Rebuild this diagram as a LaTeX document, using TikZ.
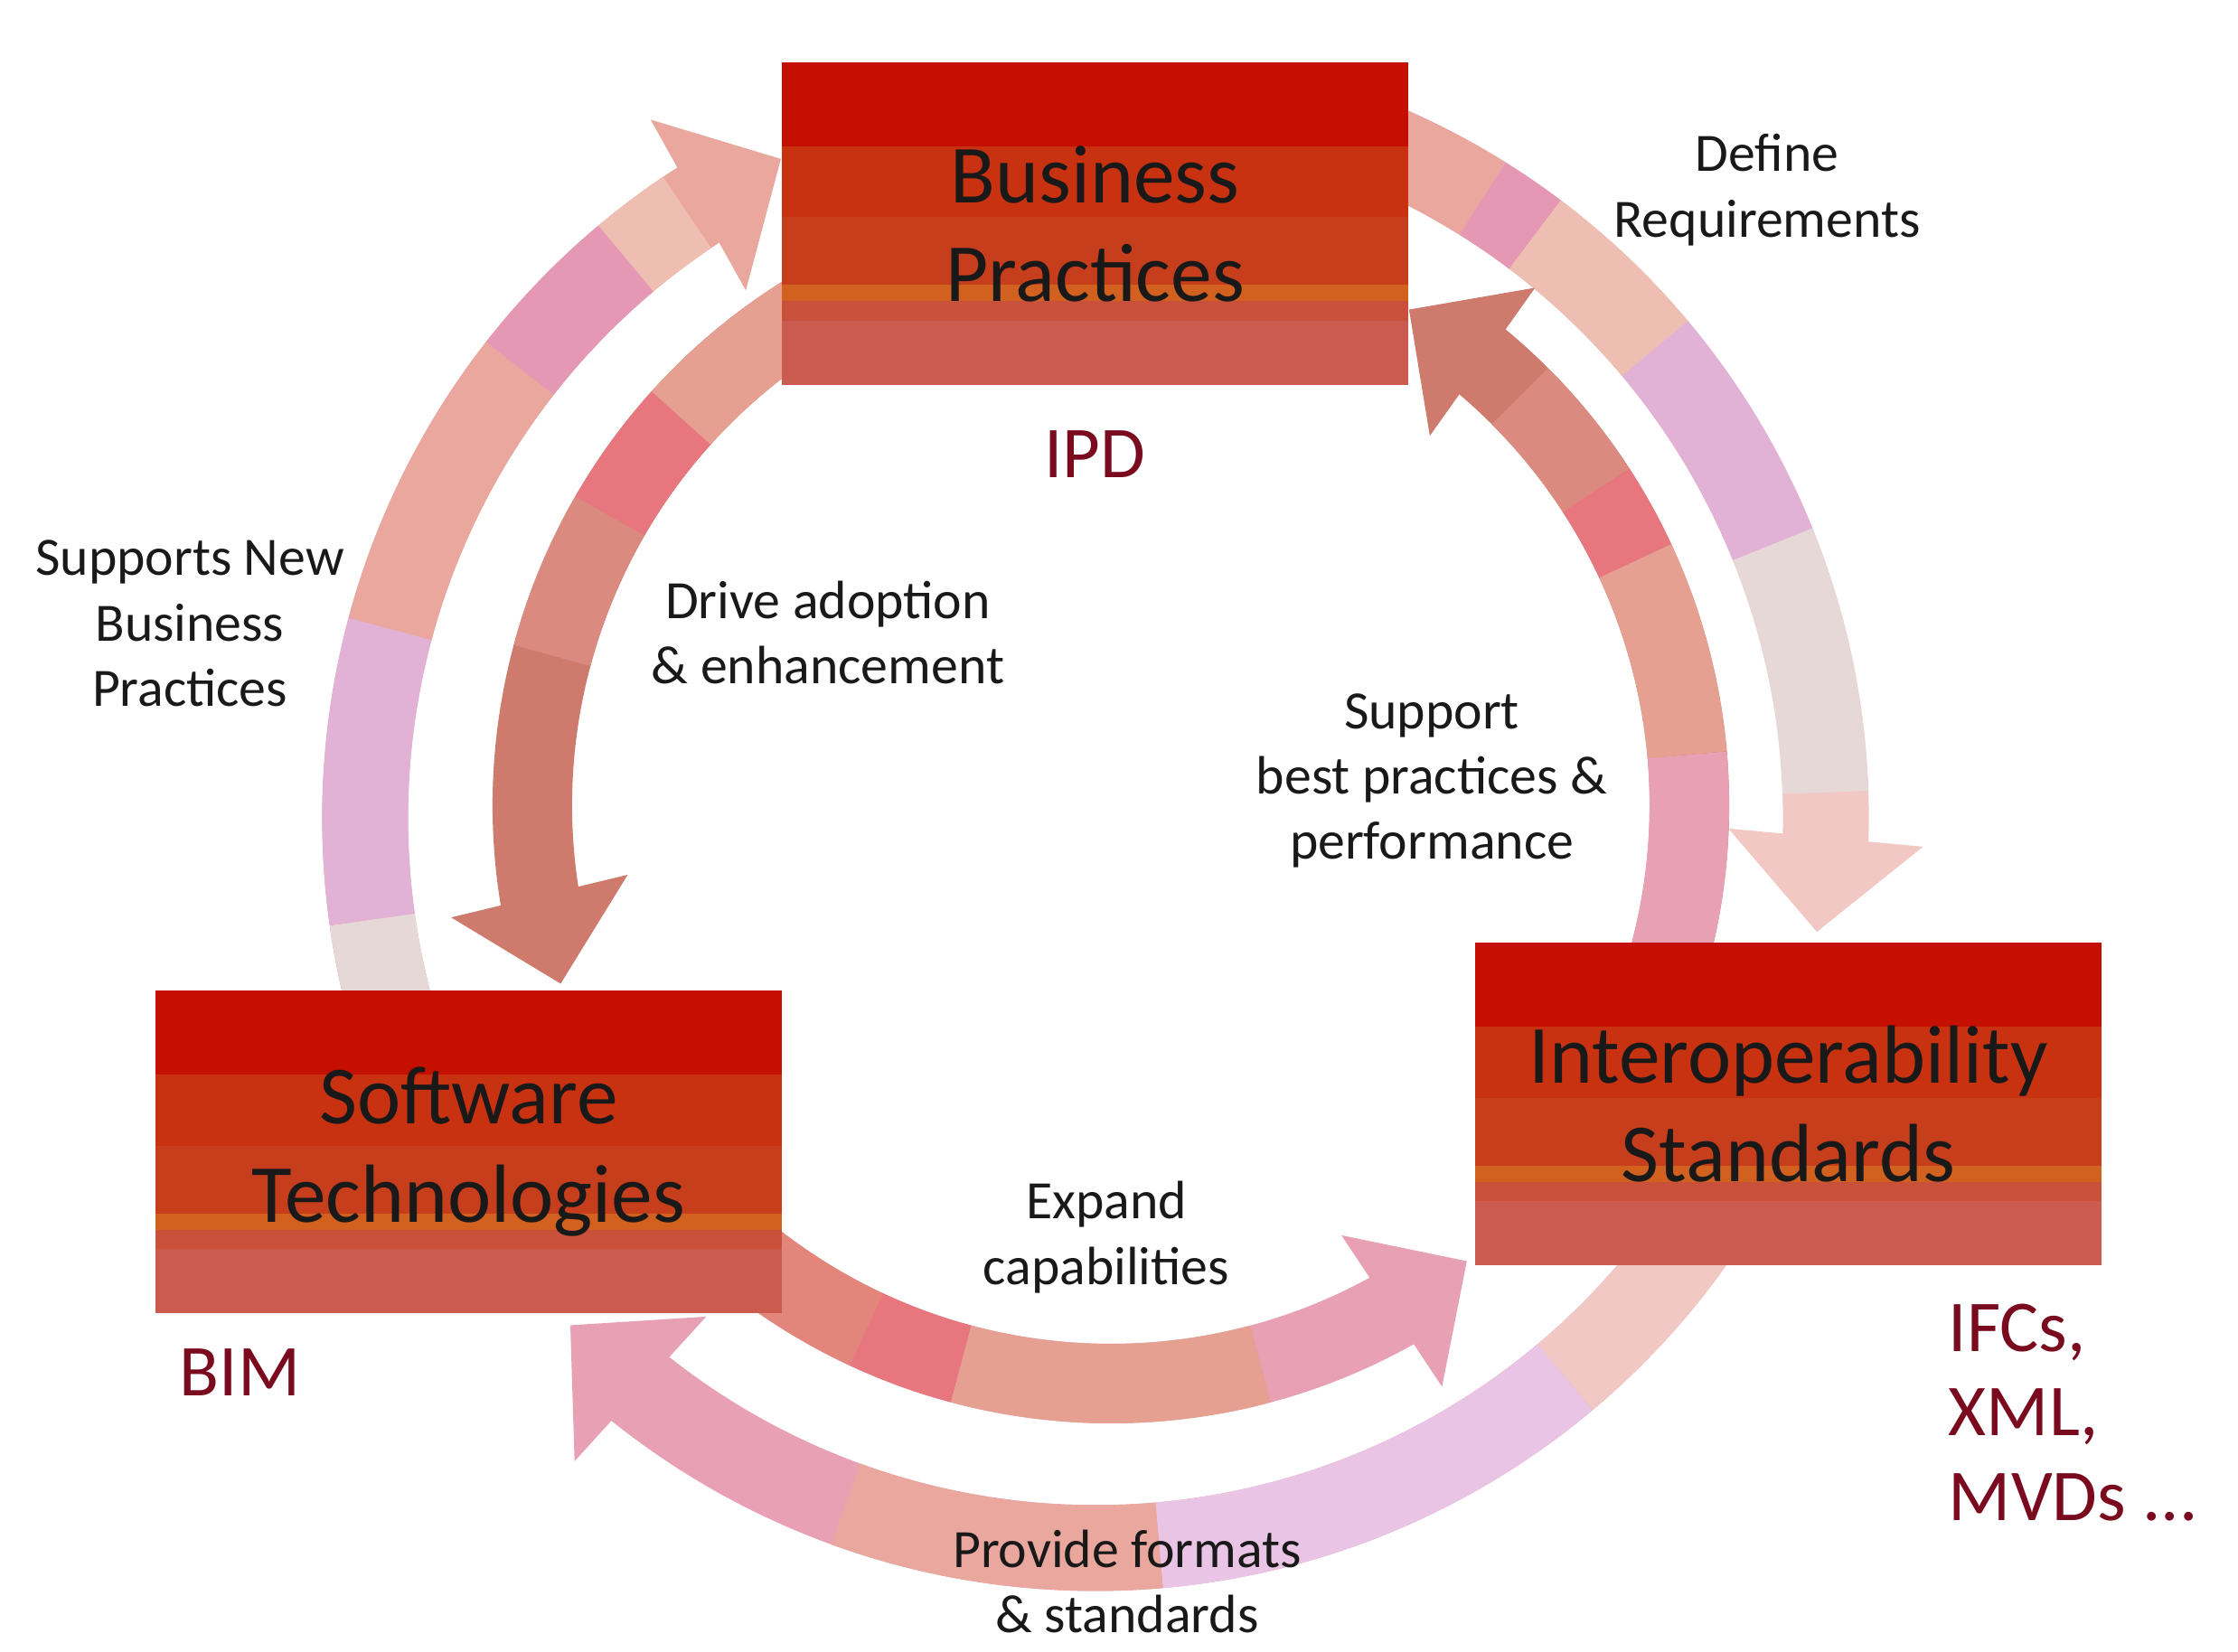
\documentclass[tikz,border=0pt]{standalone}
\usepackage{fontspec}
\setmainfont{Carlito}
\usetikzlibrary{arrows.meta,bending,calc}
\definecolor{bandA}{HTML}{C50F00}
\definecolor{bandB}{HTML}{C93210}
\definecolor{bandC}{HTML}{C63E1C}
\definecolor{bandD}{HTML}{D2601E}
\definecolor{bandE}{HTML}{C9503A}
\definecolor{bandF}{HTML}{CB5B4E}
\definecolor{tagred}{HTML}{7A0A1E}
\definecolor{mist}{HTML}{E6D8D6}
\definecolor{lilac}{HTML}{E2B2D6}
\definecolor{palelilac}{HTML}{E9C4E4}
\definecolor{salmon}{HTML}{E9A79E}
\definecolor{salmondeep}{HTML}{E5A092}
\definecolor{pinkish}{HTML}{E598B4}
\definecolor{rosy}{HTML}{E8A0B4}
\definecolor{peach}{HTML}{EEBEB2}
\definecolor{blush}{HTML}{F2C8C4}
\definecolor{brick}{HTML}{CE7B6E}
\definecolor{clay}{HTML}{DA8A7E}
\definecolor{coral}{HTML}{E8767E}
\definecolor{coralred}{HTML}{E2857A}

\begin{document}
\begin{tikzpicture}[node distance=2.5cm,
  stagebox/.style={minimum width=6.93cm, minimum height=3.57cm, inner sep=0pt, align=center,
    fill=bandF, text=black!90, font=\fontsize{26}{31}\selectfont,
    path picture={
      \foreach \f/\c in {0/bandA,0.26/bandB,0.48/bandC,0.69/bandD,0.74/bandE,0.80/bandF}
        \fill[\c] ($(path picture bounding box.north west)!\f!(path picture bounding box.south west)$) rectangle (path picture bounding box.south east);
    }},
  note/.style={align=center, text=black!90, font=\fontsize{17}{20.6}\selectfont},
  tag/.style={align=left, text=tagred, font=\fontsize{23}{26.5}\selectfont},
  outerarc/.style={line width=0.95cm, line cap=butt},
  innerarc/.style={line width=0.88cm, line cap=butt},
  outerhead/.style={-{Triangle[width=2.1cm,length=1.05cm]}},
  innerhead/.style={-{Triangle[width=1.95cm,length=1cm]}}]
\useasboundingbox (0,0) rectangle (24.76,18.28);

% ring centres
\coordinate (outerc) at (12.12,9.23);
\coordinate (innerc) at (12.29,9.37);
\coordinate (softout) at ($(outerc)+(200:8.08)$);
\coordinate (bizout) at ($(outerc)+(75:8.08)$);
\coordinate (interout) at ($(outerc)+(330:8.08)$);
\coordinate (bizin) at ($(innerc)+(120:6.4)$);
\coordinate (softin) at ($(innerc)+(225:6.4)$);
\coordinate (interin) at ($(innerc)+(-20:6.4)$);

% outer ring, clockwise
\draw[outerarc, outerhead, salmon] (softout) arc[start angle=200, end angle=115.5, radius=8.08];
\draw[outerarc, outerhead, blush] (bizout) arc[start angle=75, end angle=-9, radius=8.08];
\draw[outerarc, outerhead, rosy] (interout) arc[start angle=330, end angle=224, radius=8.08];
\foreach \a/\b/\c in {200/188/mist,188/165/lilac,165/142/salmon,142/130/pinkish,130/124/peach,
    75/58/salmon,58/53/pinkish,53/40/peach,40/22/lilac,22/2/mist,
    330/310/blush,310/275/palelilac,275/250/salmon}
  \draw[outerarc, \c] ($(outerc)+(\a:8.08)$) arc[start angle=\a, end angle=\b, radius=8.08];

% inner ring, counter-clockwise
\draw[innerarc, innerhead, brick] (bizin) arc[start angle=120, end angle=198, radius=6.4];
\draw[innerarc, innerhead, rosy] (softin) arc[start angle=225, end angle=308, radius=6.4];
\draw[innerarc, innerhead, brick] (interin) arc[start angle=-20, end angle=59, radius=6.4];
\foreach \a/\b/\c in {120/138/salmondeep,138/150/coral,150/165/clay,
    225/245/coralred,245/255/coral,255/285/salmondeep,
    -20/5/rosy,5/25/salmondeep,25/33/coral,33/45/clay}
  \draw[innerarc, \c] ($(innerc)+(\a:6.4)$) arc[start angle=\a, end angle=\b, radius=6.4];

% the three stages
\node[stagebox] (biz) at (12.115,15.805) {Business\\Practices};
\node[stagebox] (soft) at (5.185,5.53) {Software\\Technologies};
\node[stagebox] (inter) at (19.785,6.06) {Interoperability\\Standards};

\node[tag, below of=biz, yshift=-0.05cm] (ipd) {IPD};
\node[tag, below of=soft, xshift=-2.53cm, yshift=0.06cm] (bim) {BIM};
\node[tag, below of=inter, anchor=west, xshift=1.65cm, yshift=-0.91cm] (ifc) {IFCs,\\XML,\\MVDs ...};

% arrow labels
\node[note] (defreq) at (19.55,16.18) {Define\\Requirements};
\node[note] (supnew) at (2.10,11.38) {Supports New\\Business\\Practices};
\node[note] (drive) at (9.16,11.28) {Drive adoption\\\& enhancement};
\node[note] (supbest) at (15.84,9.64) {Support\\best practices \&\\performance};
\node[note] (expand) at (12.24,4.59) {Expand\\capabilities};
\node[note] (provide) at (12.47,0.78) {Provide formats\\\& standards};
\end{tikzpicture}
\end{document}
